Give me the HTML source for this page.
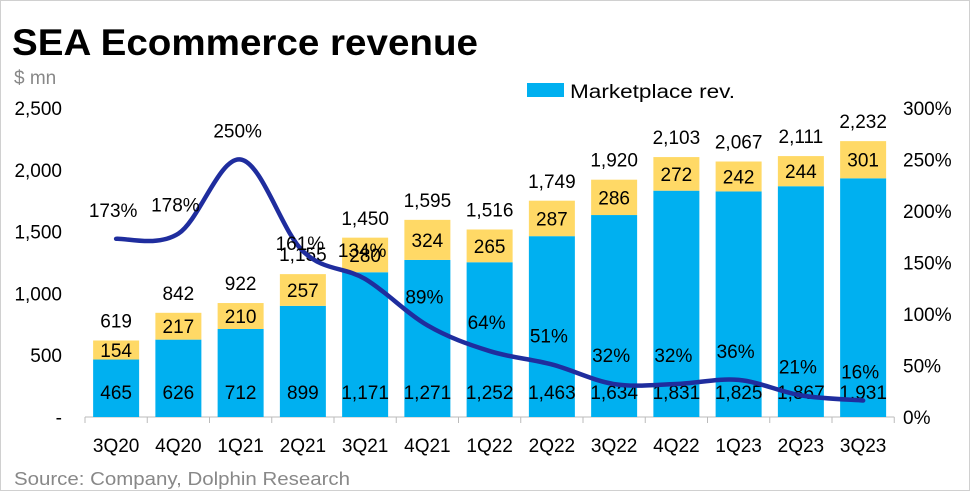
<!DOCTYPE html>
<html><head><meta charset="utf-8"><style>
body{margin:0;background:#fff;}
#c{position:relative;width:970px;height:491px;overflow:hidden;font-family:"Liberation Sans",Calibri,sans-serif;}
svg text{font-family:"Liberation Sans",sans-serif;}
</style></head><body>
<div id="c">
<svg id="s" width="970" height="491" xmlns="http://www.w3.org/2000/svg">
<rect x="0.5" y="0.5" width="969" height="490" fill="#fff" stroke="#d0d0d0"/>
<text x="12" y="55" font-size="37" font-weight="bold" fill="#000" textLength="466" lengthAdjust="spacingAndGlyphs">SEA Ecommerce revenue</text>
<text x="14" y="84" font-size="19" fill="#888">$ mn</text>
<rect x="527" y="83" width="37" height="14" fill="#00b0f0"/>
<text x="570" y="98" font-size="19" fill="#000" textLength="165" lengthAdjust="spacingAndGlyphs">Marketplace rev.</text>
<text x="14" y="485" font-size="18" fill="#888" textLength="336" lengthAdjust="spacingAndGlyphs">Source: Company, Dolphin Research</text>
<g id="g"></g>
</svg>
</div>
<script>
const categories=["3Q20","4Q20","1Q21","2Q21","3Q21","4Q21","1Q22","2Q22","3Q22","4Q22","1Q23","2Q23","3Q23"];
const marketplace=[465,626,712,899,1171,1271,1252,1463,1634,1831,1825,1867,1931];
const other=[154,217,210,257,280,324,265,287,286,272,242,244,301];
const totals=[619,842,922,1155,1450,1595,1516,1749,1920,2103,2067,2111,2232];
const growth=[173,178,250,161,134,89,64,51,32,32,36,21,16];
const leftTicks=[0,500,1000,1500,2000,2500];
const rightTicks=[0,50,100,150,200,250,300];

const NS="http://www.w3.org/2000/svg";
const g=document.getElementById('g');
const x0=85,step=62.25,bw=46,yBase=417,yTop=108;
const yL=v=>yBase-v/2500*(yBase-yTop);
const yR=v=>yBase-v/300*(yBase-yTop);
const xC=i=>x0+step*(i+0.5);
function mk(t,a,txt){const e=document.createElementNS(NS,t);for(const k in a)e.setAttribute(k,a[k]);if(txt!==undefined)e.textContent=txt;g.appendChild(e);return e;}
const fmt=v=>v.toLocaleString('en-US');

leftTicks.forEach(v=>{
  const e=mk('text',{x:62,y:yL(v)+7,'font-size':19,'text-anchor':'end'},v===0?'-':fmt(v));
  
  
});
rightTicks.forEach(v=>{
  const e=mk('text',{x:903,y:yR(v)+7,'font-size':19},v+'%');
  
  
});
const ax=mk('line',{x1:x0,x2:x0+step*13,y1:yBase,y2:yBase,stroke:'#bbb','stroke-width':1});


for(let i=0;i<=13;i++){
  const t=mk('line',{x1:x0+step*i,x2:x0+step*i,y1:yBase,y2:yBase+6,stroke:'#bbb'});
  
  
}
categories.forEach((c,i)=>{
  const cx=xC(i);
  const b=mk('rect',{x:cx-bw/2,y:yL(marketplace[i]),width:bw,height:yBase-yL(marketplace[i]),fill:'#00b0f0'});
  
  
  const o=mk('rect',{x:cx-bw/2,y:yL(marketplace[i]+other[i]),width:bw,height:yL(marketplace[i])-yL(marketplace[i]+other[i]),fill:'#ffd966'});
  
  
  const l=mk('text',{x:cx,y:452,'font-size':19,'text-anchor':'middle'},c);
  
  
  const v1=mk('text',{x:cx,y:399,'font-size':19,'text-anchor':'middle'},fmt(marketplace[i]));
  
  
  const v2=mk('text',{x:cx,y:(yL(marketplace[i])+yL(marketplace[i]+other[i]))/2+7,'font-size':19,'text-anchor':'middle'},fmt(other[i]));
  
  
  const v3=mk('text',{x:cx,y:yL(totals[i])-13,'font-size':19,'text-anchor':'middle'},fmt(totals[i]));
  
  
});
const pts=growth.map((v,i)=>[xC(i),yR(v)]);
let d='M'+pts[0][0]+','+pts[0][1];
for(let i=0;i<pts.length-1;i++){
  const p0=pts[Math.max(0,i-1)],p1=pts[i],p2=pts[i+1],p3=pts[Math.min(pts.length-1,i+2)];
  const t=0.17;
  d+=' C'+(p1[0]+(p2[0]-p0[0])*t)+','+(p1[1]+(p2[1]-p0[1])*t)+' '+(p2[0]-(p3[0]-p1[0])*t)+','+(p2[1]-(p3[1]-p1[1])*t)+' '+p2[0]+','+p2[1];
}
const ln=mk('path',{d:d,fill:'none',stroke:'#1f2d9e','stroke-width':4.5,'stroke-linecap':'round'});


growth.forEach((v,i)=>{
  const off=i===3?-8:-29;
  const e=mk('text',{x:xC(i)-3,y:yR(v)+off+7,'font-size':19,'text-anchor':'middle'},v+'%');
  
  
});
</script>
</body></html>
